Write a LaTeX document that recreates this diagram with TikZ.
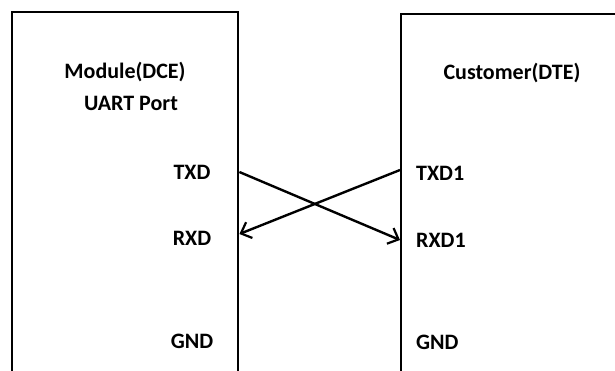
\documentclass[tikz,border=0pt]{standalone}
\usepackage{fontspec}
\setmainfont{Carlito}
\usetikzlibrary{arrows.meta}

\tikzset{
  box/.style={draw, line width=2.4pt, rectangle, anchor=north west, inner sep=0pt},
  port/.style={font=\fontsize{22}{24}\selectfont\bfseries, inner sep=1pt},
  wire/.style={line width=2.4pt, -{Straight Barb[length=9pt,width=17pt,line width=2.2pt]}}
}

\begin{document}
\begin{tikzpicture}[x=1pt,y=-1pt]
		\useasboundingbox (0,0) rectangle (615,370);
		\clip (0,0) rectangle (615,370);

		% the two ends of the link
		\node[box, minimum width=226pt, minimum height=420pt] (dce) at (11,11) {};
		\node[box, minimum width=260pt, minimum height=420pt] (dte) at (400,13) {};

		\node[port] (dcename) at (125,72) {Module(DCE)};
		\node[port] (uart) at (131,103) {UART Port};
		\node[port] (dtename) at (512,73) {Customer(DTE)};

		\node[port] (txd) at (192,172) {TXD};
		\node[port] (rxd) at (192,238) {RXD};
		\node[port] (gnd) at (192,341) {GND};

		\node[port, anchor=west] (txdone) at (415,173) {TXD1};
		\node[port, anchor=west] (rxdone) at (415,240) {RXD1};
		\node[port, anchor=west] (gndtwo) at (415,342) {GND};

		% crossed lines
		\draw[wire] (dce.east |- txd) -- (dte.west |- rxdone);
		\draw[wire] ([yshift=3pt]dte.west |- txdone) -- ([yshift=4pt]dce.east |- rxd);
\end{tikzpicture}
\end{document}
